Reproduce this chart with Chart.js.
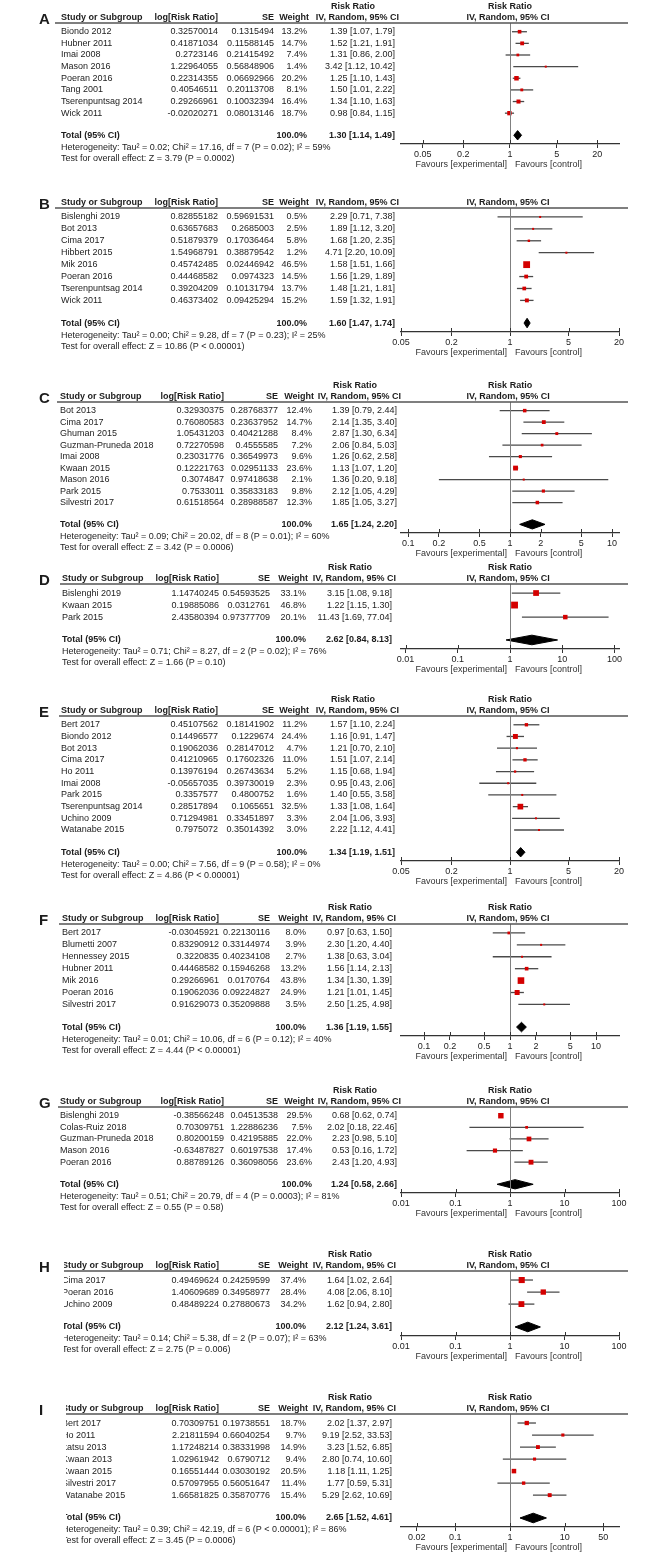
<!DOCTYPE html>
<html><head><meta charset="utf-8">
<script src="https://cdn.jsdelivr.net/npm/chart.js@4.4.1/dist/chart.umd.min.js"></script>
<style>
html,body{margin:0;padding:0;background:#fff;}
#wrap{position:relative;width:666px;height:1555px;overflow:hidden;background:#fff;}
canvas{position:absolute;left:0;}
</style></head><body><div id="wrap"></div>
<script>
// ---------- DATA ----------
const A_studies = ['Biondo 2012','Hubner 2011','Imai 2008','Mason 2016','Poeran 2016','Tang 2001','Tserenpuntsag 2014','Wick 2011'];
const A_logRR = [0.32570014,0.41871034,0.2723146,1.22964055,0.22314355,0.40546511,0.29266961,-0.02020271];
const A_se = [0.1315494,0.11588145,0.21415492,0.56848906,0.06692966,0.20113708,0.10032394,0.08013146];
const A_weight = [13.2,14.7,7.4,1.4,20.2,8.1,16.4,18.7];
const A_rr = [1.39,1.52,1.31,3.42,1.25,1.50,1.34,0.98];
const A_lo = [1.07,1.21,0.86,1.12,1.10,1.01,1.10,0.84];
const A_hi = [1.79,1.91,2.00,10.42,1.43,2.22,1.63,1.15];
const A_total = [1.30,1.14,1.49];
const A_ticks = [0.05,0.2,1,5,20];
const A_het = 'Heterogeneity: Tau² = 0.02; Chi² = 17.16, df = 7 (P = 0.02); I² = 59%';
const A_test = 'Test for overall effect: Z = 3.79 (P = 0.0002)';

const B_studies = ['Bislenghi 2019','Bot 2013','Cima 2017','Hibbert 2015','Mik 2016','Poeran 2016','Tserenpuntsag 2014','Wick 2011'];
const B_logRR = [0.82855182,0.63657683,0.51879379,1.54968791,0.45742485,0.44468582,0.39204209,0.46373402];
const B_se = [0.59691531,0.2685003,0.17036464,0.38879542,0.02446942,0.0974323,0.10131794,0.09425294];
const B_weight = [0.5,2.5,5.8,1.2,46.5,14.5,13.7,15.2];
const B_rr = [2.29,1.89,1.68,4.71,1.58,1.56,1.48,1.59];
const B_lo = [0.71,1.12,1.20,2.20,1.51,1.29,1.21,1.32];
const B_hi = [7.38,3.20,2.35,10.09,1.66,1.89,1.81,1.91];
const B_total = [1.60,1.47,1.74];
const B_ticks = [0.05,0.2,1,5,20];
const B_het = 'Heterogeneity: Tau² = 0.00; Chi² = 9.28, df = 7 (P = 0.23); I² = 25%';
const B_test = 'Test for overall effect: Z = 10.86 (P < 0.00001)';

const C_studies = ['Bot 2013','Cima 2017','Ghuman 2015','Guzman-Pruneda 2018','Imai 2008','Kwaan 2015','Mason 2016','Park 2015','Silvestri 2017'];
const C_logRR = [0.32930375,0.76080583,1.05431203,0.72270598,0.23031776,0.12221763,0.3074847,0.7533011,0.61518564];
const C_se = [0.28768377,0.23637952,0.40421288,0.4555585,0.36549973,0.02951133,0.97418638,0.35833183,0.28988587];
const C_weight = [12.4,14.7,8.4,7.2,9.6,23.6,2.1,9.8,12.3];
const C_rr = [1.39,2.14,2.87,2.06,1.26,1.13,1.36,2.12,1.85];
const C_lo = [0.79,1.35,1.30,0.84,0.62,1.07,0.20,1.05,1.05];
const C_hi = [2.44,3.40,6.34,5.03,2.58,1.20,9.18,4.29,3.27];
const C_total = [1.65,1.24,2.20];
const C_ticks = [0.1,0.2,0.5,1,2,5,10];
const C_het = 'Heterogeneity: Tau² = 0.09; Chi² = 20.02, df = 8 (P = 0.01); I² = 60%';
const C_test = 'Test for overall effect: Z = 3.42 (P = 0.0006)';

const D_studies = ['Bislenghi 2019','Kwaan 2015','Park 2015'];
const D_logRR = [1.14740245,0.19885086,2.43580394];
const D_se = [0.54593525,0.0312761,0.97377709];
const D_weight = [33.1,46.8,20.1];
const D_rr = [3.15,1.22,11.43];
const D_lo = [1.08,1.15,1.69];
const D_hi = [9.18,1.30,77.04];
const D_total = [2.62,0.84,8.13];
const D_ticks = [0.01,0.1,1,10,100];
const D_het = 'Heterogeneity: Tau² = 0.71; Chi² = 8.27, df = 2 (P = 0.02); I² = 76%';
const D_test = 'Test for overall effect: Z = 1.66 (P = 0.10)';

const E_studies = ['Bert 2017','Biondo 2012','Bot 2013','Cima 2017','Ho 2011','Imai 2008','Park 2015','Tserenpuntsag 2014','Uchino 2009','Watanabe 2015'];
const E_logRR = [0.45107562,0.14496577,0.19062036,0.41210965,0.13976194,-0.05657035,0.3357577,0.28517894,0.71294981,0.7975072];
const E_se = [0.18141902,0.1229674,0.28147012,0.17602326,0.26743634,0.39730019,0.4800752,0.1065651,0.33451897,0.35014392];
const E_weight = [11.2,24.4,4.7,11.0,5.2,2.3,1.6,32.5,3.3,3.0];
const E_rr = [1.57,1.16,1.21,1.51,1.15,0.95,1.40,1.33,2.04,2.22];
const E_lo = [1.10,0.91,0.70,1.07,0.68,0.43,0.55,1.08,1.06,1.12];
const E_hi = [2.24,1.47,2.10,2.14,1.94,2.06,3.58,1.64,3.93,4.41];
const E_total = [1.34,1.19,1.51];
const E_ticks = [0.05,0.2,1,5,20];
const E_het = 'Heterogeneity: Tau² = 0.00; Chi² = 7.56, df = 9 (P = 0.58); I² = 0%';
const E_test = 'Test for overall effect: Z = 4.86 (P < 0.00001)';

const F_studies = ['Bert 2017','Blumetti 2007','Hennessey 2015','Hubner 2011','Mik 2016','Poeran 2016','Silvestri 2017'];
const F_logRR = [-0.03045921,0.83290912,0.3220835,0.44468582,0.29266961,0.19062036,0.91629073];
const F_se = [0.22130116,0.33144974,0.40234108,0.15946268,0.0170764,0.09224827,0.35209888];
const F_weight = [8.0,3.9,2.7,13.2,43.8,24.9,3.5];
const F_rr = [0.97,2.30,1.38,1.56,1.34,1.21,2.50];
const F_lo = [0.63,1.20,0.63,1.14,1.30,1.01,1.25];
const F_hi = [1.50,4.40,3.04,2.13,1.39,1.45,4.98];
const F_total = [1.36,1.19,1.55];
const F_ticks = [0.1,0.2,0.5,1,2,5,10];
const F_het = 'Heterogeneity: Tau² = 0.01; Chi² = 10.06, df = 6 (P = 0.12); I² = 40%';
const F_test = 'Test for overall effect: Z = 4.44 (P < 0.00001)';

const G_studies = ['Bislenghi 2019','Colas-Ruiz 2018','Guzman-Pruneda 2018','Mason 2016','Poeran 2016'];
const G_logRR = [-0.38566248,0.70309751,0.80200159,-0.63487827,0.88789126];
const G_se = [0.04513538,1.22886236,0.42195885,0.60197538,0.36098056];
const G_weight = [29.5,7.5,22.0,17.4,23.6];
const G_rr = [0.68,2.02,2.23,0.53,2.43];
const G_lo = [0.62,0.18,0.98,0.16,1.20];
const G_hi = [0.74,22.46,5.10,1.72,4.93];
const G_total = [1.24,0.58,2.66];
const G_ticks = [0.01,0.1,1,10,100];
const G_het = 'Heterogeneity: Tau² = 0.51; Chi² = 20.79, df = 4 (P = 0.0003); I² = 81%';
const G_test = 'Test for overall effect: Z = 0.55 (P = 0.58)';

const H_studies = ['Cima 2017','Poeran 2016','Uchino 2009'];
const H_logRR = [0.49469624,1.40609689,0.48489224];
const H_se = [0.24259599,0.34958977,0.27880673];
const H_weight = [37.4,28.4,34.2];
const H_rr = [1.64,4.08,1.62];
const H_lo = [1.02,2.06,0.94];
const H_hi = [2.64,8.10,2.80];
const H_total = [2.12,1.24,3.61];
const H_ticks = [0.01,0.1,1,10,100];
const H_het = 'Heterogeneity: Tau² = 0.14; Chi² = 5.38, df = 2 (P = 0.07); I² = 63%';
const H_test = 'Test for overall effect: Z = 2.75 (P = 0.006)';

const I_studies = ['Bert 2017','Ho 2011','Itatsu 2013','Kwaan 2013','Kwaan 2015','Silvestri 2017','Watanabe 2015'];
const I_logRR = [0.70309751,2.21811594,1.17248214,1.02961942,0.16551444,0.57097955,1.66581825];
const I_se = [0.19738551,0.66040254,0.38331998,0.6790712,0.03030192,0.56051647,0.35870776];
const I_weight = [18.7,9.7,14.9,9.4,20.5,11.4,15.4];
const I_rr = [2.02,9.19,3.23,2.80,1.18,1.77,5.29];
const I_lo = [1.37,2.52,1.52,0.74,1.11,0.59,2.62];
const I_hi = [2.97,33.53,6.85,10.60,1.25,5.31,10.69];
const I_total = [2.65,1.52,4.61];
const I_ticks = [0.02,0.1,1,10,50];
const I_het = 'Heterogeneity: Tau² = 0.39; Chi² = 42.19, df = 6 (P < 0.00001); I² = 86%';
const I_test = 'Test for overall effect: Z = 3.45 (P = 0.0006)';

// ---------- LAYOUT (positions / styles) ----------
const COLS1 = {name:61, lr:218, se:274, w:307, ci:395};
const COLS2 = {name:60, lr:224, se:278, w:312, ci:397};
const COLS3 = {name:62, lr:219, se:270, w:306, ci:392};
const FONT = '"Liberation Sans", Arial, Helvetica, sans-serif';
const PLOT_L = 401, PLOT_R = 619, PAD_TOP = 28, AX_H = 32;

const panels = [
  {letter:'A', U:23,   X:144,  cols:COLS1, min:0.0236, max:42.4, rrHead:true,  ruleL:55, clipL:0,
   studies:A_studies, lr:A_logRR, se:A_se, w:A_weight, rr:A_rr, lo:A_lo, hi:A_hi, total:A_total, ticks:A_ticks, het:A_het, test:A_test},
  {letter:'B', U:208,  X:332,  cols:COLS1, min:0.05, max:20, rrHead:false, ruleL:55, clipL:0,
   studies:B_studies, lr:B_logRR, se:B_se, w:B_weight, rr:B_rr, lo:B_lo, hi:B_hi, total:B_total, ticks:B_ticks, het:B_het, test:B_test},
  {letter:'C', U:402,  X:533,  cols:COLS2, min:0.085, max:11.7, rrHead:true, ruleL:57, clipL:0,
   studies:C_studies, lr:C_logRR, se:C_se, w:C_weight, rr:C_rr, lo:C_lo, hi:C_hi, total:C_total, ticks:C_ticks, het:C_het, test:C_test},
  {letter:'D', U:584,  X:649,  cols:COLS3, min:0.00817, max:122, rrHead:true, ruleL:60, clipL:0,
   studies:D_studies, lr:D_logRR, se:D_se, w:D_weight, rr:D_rr, lo:D_lo, hi:D_hi, total:D_total, ticks:D_ticks, het:D_het, test:D_test},
  {letter:'E', U:716,  X:861,  cols:COLS1, min:0.05, max:20, rrHead:true, ruleL:59, clipL:0,
   studies:E_studies, lr:E_logRR, se:E_se, w:E_weight, rr:E_rr, lo:E_lo, hi:E_hi, total:E_total, ticks:E_ticks, het:E_het, test:E_test},
  {letter:'F', U:924,  X:1036, cols:COLS3, min:0.054, max:18.5, rrHead:true, ruleL:59, clipL:0,
   studies:F_studies, lr:F_logRR, se:F_se, w:F_weight, rr:F_rr, lo:F_lo, hi:F_hi, total:F_total, ticks:F_ticks, het:F_het, test:F_test},
  {letter:'G', U:1107, X:1193, cols:COLS2, min:0.01, max:100, rrHead:true, ruleL:58, clipL:0,
   studies:G_studies, lr:G_logRR, se:G_se, w:G_weight, rr:G_rr, lo:G_lo, hi:G_hi, total:G_total, ticks:G_ticks, het:G_het, test:G_test},
  {letter:'H', U:1271, X:1336, cols:COLS3, min:0.01, max:100, rrHead:true, ruleL:60, clipL:64,
   studies:H_studies, lr:H_logRR, se:H_se, w:H_weight, rr:H_rr, lo:H_lo, hi:H_hi, total:H_total, ticks:H_ticks, het:H_het, test:H_test},
  {letter:'I', U:1414, X:1527, cols:COLS3, min:0.0103, max:97, rrHead:true, ruleL:60, clipL:66,
   studies:I_studies, lr:I_logRR, se:I_se, w:I_weight, rr:I_rr, lo:I_lo, hi:I_hi, total:I_total, ticks:I_ticks, het:I_het, test:I_test}
];

function f2(v){ return v.toFixed(2); }
function ciText(r,l,h){ return f2(r)+' ['+f2(l)+', '+f2(h)+']'; }

function drawPanelText(chart, P){
  const ctx = chart.ctx, xs = chart.scales.x, ys = chart.scales.y, ca = chart.chartArea;
  const U = ca.top, X = ca.bottom, C = P.cols, n = P.studies.length;
  const x1 = xs.getPixelForValue(1);
  ctx.save();
  // vertical line of no effect
  ctx.strokeStyle = '#808080'; ctx.lineWidth = 1;
  ctx.beginPath(); ctx.moveTo(Math.round(x1)+0.5, U); ctx.lineTo(Math.round(x1)+0.5, X); ctx.stroke();
  // upward halves of axis ticks
  ctx.strokeStyle = '#333'; ctx.lineWidth = 1;
  P.ticks.forEach(t => { const x = Math.round(xs.getPixelForValue(t))+0.5; ctx.beginPath(); ctx.moveTo(x, X-4); ctx.lineTo(x, X); ctx.stroke(); });

  ctx.fillStyle = '#1c1c1c';
  // panel letter
  ctx.font = 'bold 15px ' + FONT; ctx.textAlign = 'left'; ctx.textBaseline = 'alphabetic';
  ctx.fillText(P.letter, 39, U + 1);

  // the source figure is cropped on the left for some panels
  if (P.clipL > 0){ ctx.beginPath(); ctx.rect(P.clipL, 0, chart.width - P.clipL, chart.height); ctx.clip(); }

  // header rule
  ctx.strokeStyle = '#555'; ctx.lineWidth = 1.3;
  ctx.beginPath(); ctx.moveTo(P.ruleL, U); ctx.lineTo(628, U); ctx.stroke();

  ctx.textBaseline = 'middle';
  ctx.font = 'bold 9px ' + FONT;
  if (P.rrHead){
    ctx.textAlign = 'center';
    ctx.fillText('Risk Ratio', C.ci - 42, U - 16);
    ctx.fillText('Risk Ratio', x1, U - 16);
  }
  ctx.textAlign = 'left'; ctx.fillText('Study or Subgroup', C.name, U - 5);
  ctx.textAlign = 'right';
  ctx.fillText('log[Risk Ratio]', C.lr, U - 5);
  ctx.fillText('SE', C.se, U - 5);
  ctx.fillText('Weight', C.w + 2, U - 5);
  ctx.fillText('IV, Random, 95% CI', C.ci + 4, U - 5);
  ctx.textAlign = 'center'; ctx.fillText('IV, Random, 95% CI', x1 - 2, U - 5);

  // study rows
  ctx.font = '9px ' + FONT;
  for (let i = 0; i < n; i++){
    const y = ys.getPixelForValue(i);
    ctx.textAlign = 'left'; ctx.fillText(P.studies[i], C.name, y);
    ctx.textAlign = 'right';
    ctx.fillText(String(P.lr[i]), C.lr, y);
    ctx.fillText(String(P.se[i]), C.se, y);
    ctx.fillText(P.w[i].toFixed(1) + '%', C.w, y);
    ctx.fillText(ciText(P.rr[i], P.lo[i], P.hi[i]), C.ci, y);
  }
  // total row
  const yt = ys.getPixelForValue(n + 0.9);
  ctx.font = 'bold 9px ' + FONT;
  ctx.textAlign = 'left'; ctx.fillText('Total (95% CI)', C.name, yt);
  ctx.textAlign = 'right';
  ctx.fillText('100.0%', C.w, yt);
  ctx.fillText(ciText(P.total[0], P.total[1], P.total[2]), C.ci, yt);
  ctx.font = '9px ' + FONT; ctx.textAlign = 'left';
  ctx.fillText(P.het, C.name, yt + 12);
  ctx.fillText(P.test, C.name, yt + 23);
  // favours
  ctx.fillStyle = '#333';
  ctx.textAlign = 'right'; ctx.fillText('Favours [experimental]', x1 - 3, X + 21);
  ctx.textAlign = 'left'; ctx.fillText('Favours [control]', x1 + 5, X + 21);
  ctx.restore();
}

const wrap = document.getElementById('wrap');
panels.forEach((P, k) => {
  const n = P.studies.length;
  const cv = document.createElement('canvas');
  const h = (P.X - P.U) + PAD_TOP + AX_H;
  cv.width = 666; cv.height = h;
  cv.style.top = (P.U - PAD_TOP) + 'px';
  cv.style.width = '666px'; cv.style.height = h + 'px';
  wrap.appendChild(cv);

  const ytot = n + 0.9;
  const datasets = [
    { // study squares (weighted)
      data: P.rr.map((r,i)=>({x:r, y:i})),
      pointStyle: 'rect',
      pointRadius: P.w.map(w => Math.max(2, Math.sqrt(w) * 1.0) / 1.414),
      backgroundColor: '#d40000', borderWidth: 0, showLine: false, order: 0
    },
    { // pooled diamond
      data: [{x:P.total[1], y:ytot},{x:P.total[0], y:ytot-0.4},{x:P.total[2], y:ytot},{x:P.total[0], y:ytot+0.4},{x:P.total[1], y:ytot}],
      showLine: true, fill: 'shape', tension: 0, pointRadius: 0,
      borderColor: '#000', backgroundColor: '#000', borderWidth: 1, order: 1
    }
  ];
  P.lo.forEach((l,i) => datasets.push({
    data: [{x:l, y:i},{x:P.hi[i], y:i}],
    showLine: true, pointRadius: 0, borderColor: '#4a4a4a', borderWidth: 1.3, order: 2
  }));

  new Chart(cv.getContext('2d'), {
    type: 'scatter',
    data: { datasets },
    options: {
      responsive: false, animation: false, devicePixelRatio: 1, events: [],
      layout: { padding: { left: PLOT_L, right: 666 - PLOT_R, top: PAD_TOP, bottom: 0 } },
      plugins: { legend: { display: false }, tooltip: { enabled: false } },
      scales: {
        x: {
          type: 'logarithmic', min: P.min, max: P.max, position: 'bottom',
          afterBuildTicks: s => { s.ticks = P.ticks.map(v => ({value: v})); },
          afterFit: s => { s.height = AX_H; },
          ticks: { autoSkip: false, maxRotation: 0, minRotation: 0, padding: 1, color: '#222',
                   font: { family: FONT, size: 9 }, callback: v => String(v) },
          grid: { display: true, drawOnChartArea: false, drawTicks: true, tickLength: 4, color: '#333', lineWidth: 1 },
          border: { display: true, color: '#333', width: 1.3 }
        },
        y: { type: 'linear', reverse: true, min: -0.75, max: n + 1.65, display: false }
      }
    },
    plugins: [{ id: 'forestText' + k, afterDraw: chart => drawPanelText(chart, P) }]
  });
});
</script>
</body></html>
